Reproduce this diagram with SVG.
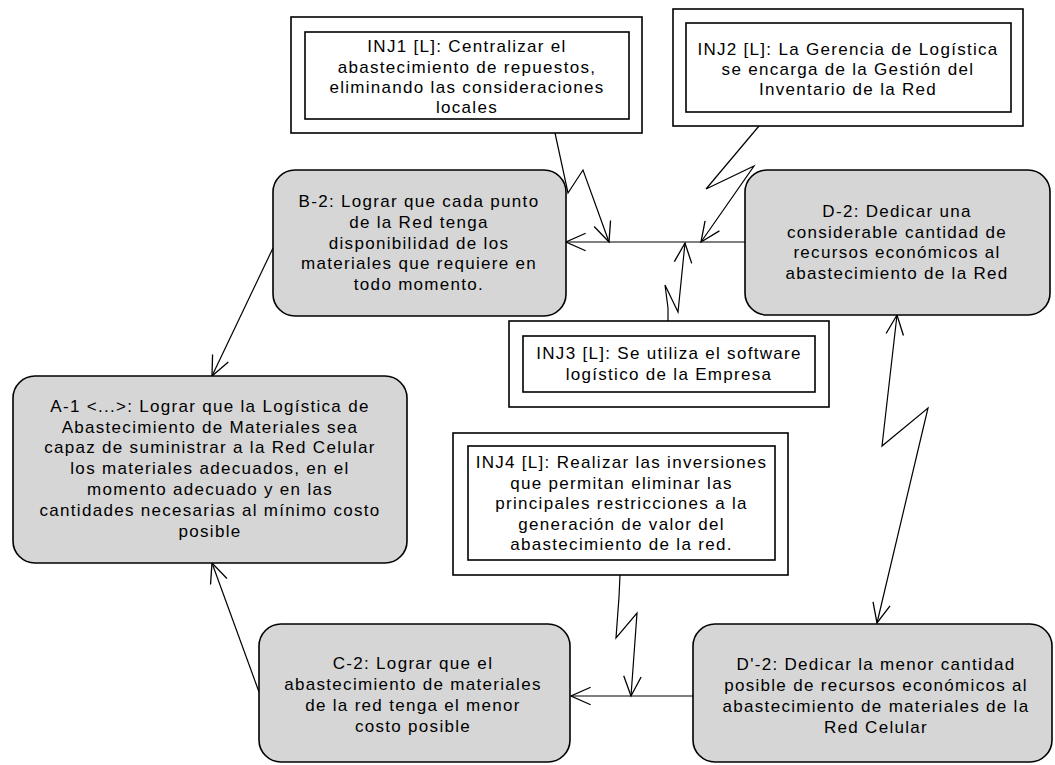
<svg xmlns="http://www.w3.org/2000/svg" width="1055" height="765" viewBox="0 0 1055 765">
<style>
.bg{fill:#ffffff}
.node{fill:#d6d6d6;stroke:#000;stroke-width:1.6}
.inj{fill:#ffffff;stroke:#000;stroke-width:1.6}
.t{font-family:"Liberation Sans",Arial,sans-serif;font-size:17px;letter-spacing:1.3px;fill:#000;text-anchor:middle}
.c{fill:none;stroke:#000;stroke-width:1.2}
</style>
<defs>
<marker id="ah" markerUnits="userSpaceOnUse" markerWidth="24" markerHeight="24" viewBox="-20 -10 22 20" refX="0" refY="0" orient="auto-start-reverse">
<path d="M-18,-8 L0,0 L-18,8" fill="none" stroke="#000" stroke-width="1.2"/>
</marker>
</defs>
<rect class="bg" x="0" y="0" width="1055" height="765"/>

<g id="connectors">
<path class="c" d="M745,242 L566,242" marker-end="url(#ah)"/>
<path class="c" d="M693,696 L571,696" marker-end="url(#ah)"/>
<path class="c" d="M273,248 L212,376" marker-end="url(#ah)"/>
<path class="c" d="M259,692 L212,563" marker-end="url(#ah)"/>
<path class="c" d="M555,133 L568,193 L583,170 L609,242" marker-end="url(#ah)"/>
<path class="c" d="M759,126 L706,189 L754,166 L701,242" marker-end="url(#ah)"/>
<path class="c" d="M668,321 L668,308 L665,285 L678,312 L685,243" marker-end="url(#ah)"/>
<path class="c" d="M620,575 L619,597 L616,638 L637,613 L631,696" marker-end="url(#ah)"/>
<path class="c" d="M897,315 L882,446 L928,408 L877,623" marker-start="url(#ah)" marker-end="url(#ah)"/>
</g>

<g id="INJ1">
<rect class="inj" x="291" y="17" width="351" height="116"/>
<rect class="inj" x="305" y="32" width="324" height="87"/>
<text class="t" x="467" y="52">INJ1 [L]: Centralizar el</text>
<text class="t" x="467" y="72.5">abastecimiento de repuestos,</text>
<text class="t" x="467" y="93">eliminando las consideraciones</text>
<text class="t" x="467" y="113">locales</text>
</g>

<g id="INJ2">
<rect class="inj" x="673" y="9" width="350" height="117"/>
<rect class="inj" x="686" y="23" width="325" height="89"/>
<text class="t" x="848" y="55">INJ2 [L]: La Gerencia de Logística</text>
<text class="t" x="848" y="75">se encarga de la Gestión del</text>
<text class="t" x="848" y="95">Inventario de la Red</text>
</g>

<g id="B-2">
<rect class="node" x="273" y="170" width="293" height="146" rx="22" ry="22"/>
<text class="t" x="419" y="207">B-2: Lograr que cada punto</text>
<text class="t" x="419" y="228">de la Red tenga</text>
<text class="t" x="419" y="248.5">disponibilidad de los</text>
<text class="t" x="419" y="269">materiales que requiere en</text>
<text class="t" x="419" y="290">todo momento.</text>
</g>

<g id="D-2">
<rect class="node" x="745" y="170" width="305" height="145" rx="22" ry="22"/>
<text class="t" x="897" y="217">D-2: Dedicar una</text>
<text class="t" x="897" y="237.5">considerable cantidad de</text>
<text class="t" x="897" y="258">recursos económicos al</text>
<text class="t" x="897" y="278.5">abastecimiento de la Red</text>
</g>

<g id="INJ3">
<rect class="inj" x="509" y="321" width="320" height="86"/>
<rect class="inj" x="523" y="336" width="292" height="56"/>
<text class="t" x="669" y="359">INJ3 [L]: Se utiliza el software</text>
<text class="t" x="669" y="380">logístico de la Empresa</text>
</g>

<g id="A-1">
<rect class="node" x="13" y="376" width="394" height="187" rx="22" ry="22"/>
<text class="t" x="210" y="412">A-1 &lt;...&gt;: Lograr que la Logística de</text>
<text class="t" x="210" y="432.7">Abastecimiento de Materiales sea</text>
<text class="t" x="210" y="453.4">capaz de suministrar a la Red Celular</text>
<text class="t" x="210" y="474.1">los materiales adecuados, en el</text>
<text class="t" x="210" y="494.8">momento adecuado y en las</text>
<text class="t" x="210" y="515.5">cantidades necesarias al mínimo costo</text>
<text class="t" x="210" y="537">posible</text>
</g>

<g id="INJ4">
<rect class="inj" x="453" y="433" width="335" height="142"/>
<rect class="inj" x="468" y="446" width="307" height="114"/>
<text class="t" x="621.5" y="468">INJ4 [L]: Realizar las inversiones</text>
<text class="t" x="621.5" y="488.5">que permitan eliminar las</text>
<text class="t" x="621.5" y="509">principales restricciones a la</text>
<text class="t" x="621.5" y="529.5">generación de valor del</text>
<text class="t" x="621.5" y="550">abastecimiento de la red.</text>
</g>

<g id="C-2">
<rect class="node" x="259" y="624" width="311" height="138" rx="22" ry="22"/>
<text class="t" x="413" y="669">C-2: Lograr que el</text>
<text class="t" x="413" y="690">abastecimiento de materiales</text>
<text class="t" x="413" y="711">de la red tenga el menor</text>
<text class="t" x="413" y="732">costo posible</text>
</g>

<g id="D-prime-2">
<rect class="node" x="693" y="624" width="359" height="138" rx="22" ry="22"/>
<text class="t" x="876" y="670">D'-2: Dedicar la menor cantidad</text>
<text class="t" x="876" y="691">posible de recursos económicos al</text>
<text class="t" x="876" y="712">abastecimiento de materiales de la</text>
<text class="t" x="876" y="733">Red Celular</text>
</g>
</svg>
